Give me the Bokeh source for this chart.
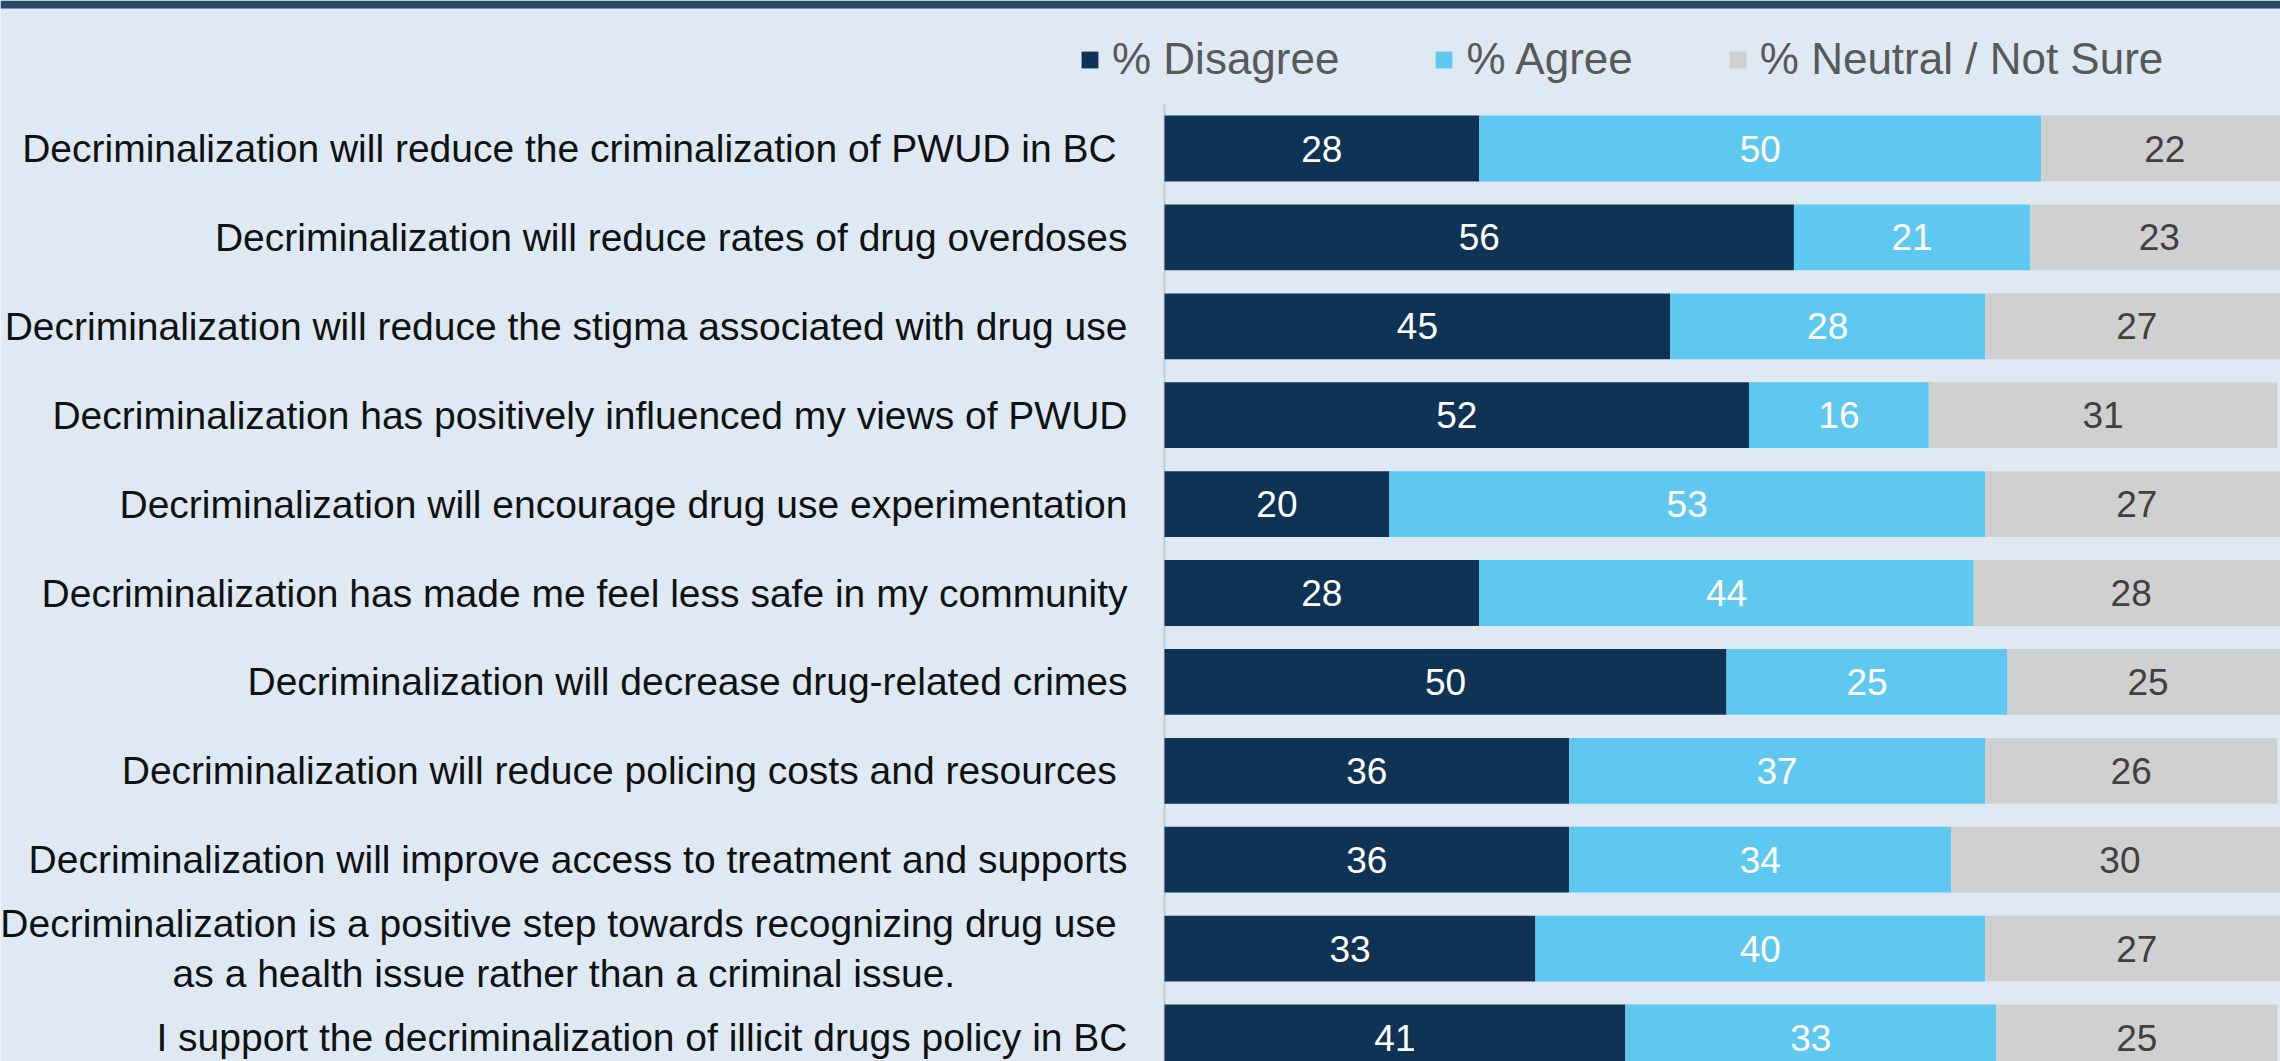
from bokeh.plotting import figure
from bokeh.models import Range1d, ColumnDataSource, Legend, LegendItem
from bokeh.embed import file_html
from bokeh.resources import INLINE
from bokeh.core.properties import value

# ---------------- data ----------------
categories = [
    "Decriminalization will reduce the criminalization of PWUD in BC ",
    "Decriminalization will reduce rates of drug overdoses",
    "Decriminalization will reduce the stigma associated with drug use",
    "Decriminalization has positively influenced my views of PWUD",
    "Decriminalization will encourage drug use experimentation",
    "Decriminalization has made me feel less safe in my community",
    "Decriminalization will decrease drug-related crimes",
    "Decriminalization will reduce policing costs and resources ",
    "Decriminalization will improve access to treatment and supports",
    "Decriminalization is a positive step towards recognizing drug use \nas a health issue rather than a criminal issue.",
    "I support the decriminalization of illicit drugs policy in BC",
]
disagree = [28, 56, 45, 52, 20, 28, 50, 36, 36, 33, 41]
agree = [50, 21, 28, 16, 53, 44, 25, 37, 34, 40, 33]
neutral = [22, 23, 27, 31, 27, 28, 25, 26, 30, 27, 25]
series_keys = ["disagree", "agree", "neutral"]
series_names = ["% Disagree", "% Agree", "% Neutral / Not Sure"]

# ---------------- style / layout ----------------
BG = "#dfe9f4"
BAND = "#234a68"
COLORS = ["#0e3354", "#5fc8f0", "#d0d0d0"]
VALUE_COLORS = ["#ffffff", "#ffffff", "#404040"]
FONT = "Liberation Sans"

W, H = 2280, 1061
PX_PER_UNIT = 11.24
X0_PX = 1164      # where 0 % sits inside the figure
ROW0_PX = 148     # centre of first row inside the figure
PITCH = 88.9      # pixels between rows
BAND_PX = 8

x_start = -X0_PX / PX_PER_UNIT
x_end = (W - X0_PX) / PX_PER_UNIT
y_top = -ROW0_PX / PITCH
y_bottom = (H - ROW0_PX) / PITCH

p = figure(
    width=W, height=H,
    x_range=Range1d(x_start, x_end),
    y_range=Range1d(y_bottom, y_top),
    output_backend="svg", toolbar_location=None,
    x_axis_location=None, y_axis_location=None,
    min_border=0, background_fill_color=BG, border_fill_color=BG,
    outline_line_color=None,
)
p.grid.visible = False

n = len(categories)
ypos = list(range(n))
src = ColumnDataSource(dict(y=ypos, disagree=disagree, agree=agree, neutral=neutral))

# top band
p.quad(left=[x_start], right=[x_end], top=[y_top],
       bottom=[(BAND_PX - ROW0_PX) / PITCH], fill_color=BAND, line_color=None)

# axis line
p.segment(x0=[0], y0=[-0.5], x1=[0], y1=[n - 0.5], line_color="#c9c9c9", line_width=2)

renderers = p.hbar_stack(series_keys, y="y", height=0.74, fill_color=COLORS,
                         line_color=None, source=src)

# value labels
vx, vy, vt, vc = [], [], [], []
for i in range(n):
    left = 0
    for k, vals in enumerate([disagree, agree, neutral]):
        v = vals[i]
        vx.append(left + v / 2)
        vy.append(i)
        vt.append(str(v))
        vc.append(VALUE_COLORS[k])
        left += v
p.text(x=vx, y=vy, text=vt, text_color=vc, text_align="center", text_baseline="middle",
       text_font=value(FONT), text_font_size="37px")

# category labels
label_x = (1127 - X0_PX) / PX_PER_UNIT
p.text(x=[label_x] * n, y=ypos, text=categories, text_align="center", text_baseline="middle",
       anchor="center_right", text_font=value(FONT), text_font_size="39px",
       text_color="#111111", text_line_height=1.15)

legend = Legend(
    items=[LegendItem(label=name, renderers=[r]) for name, r in zip(series_names, renderers)],
    orientation="horizontal", location=(1079, 977),
    glyph_width=21, glyph_height=21, label_standoff=12, spacing=94,
    padding=0, margin=0,
    label_text_font_size="44px", label_text_color="#595959", label_text_font=FONT,
    background_fill_alpha=0, border_line_alpha=0,
)
p.add_layout(legend)

open("out.html", "w").write(file_html(p, INLINE))
